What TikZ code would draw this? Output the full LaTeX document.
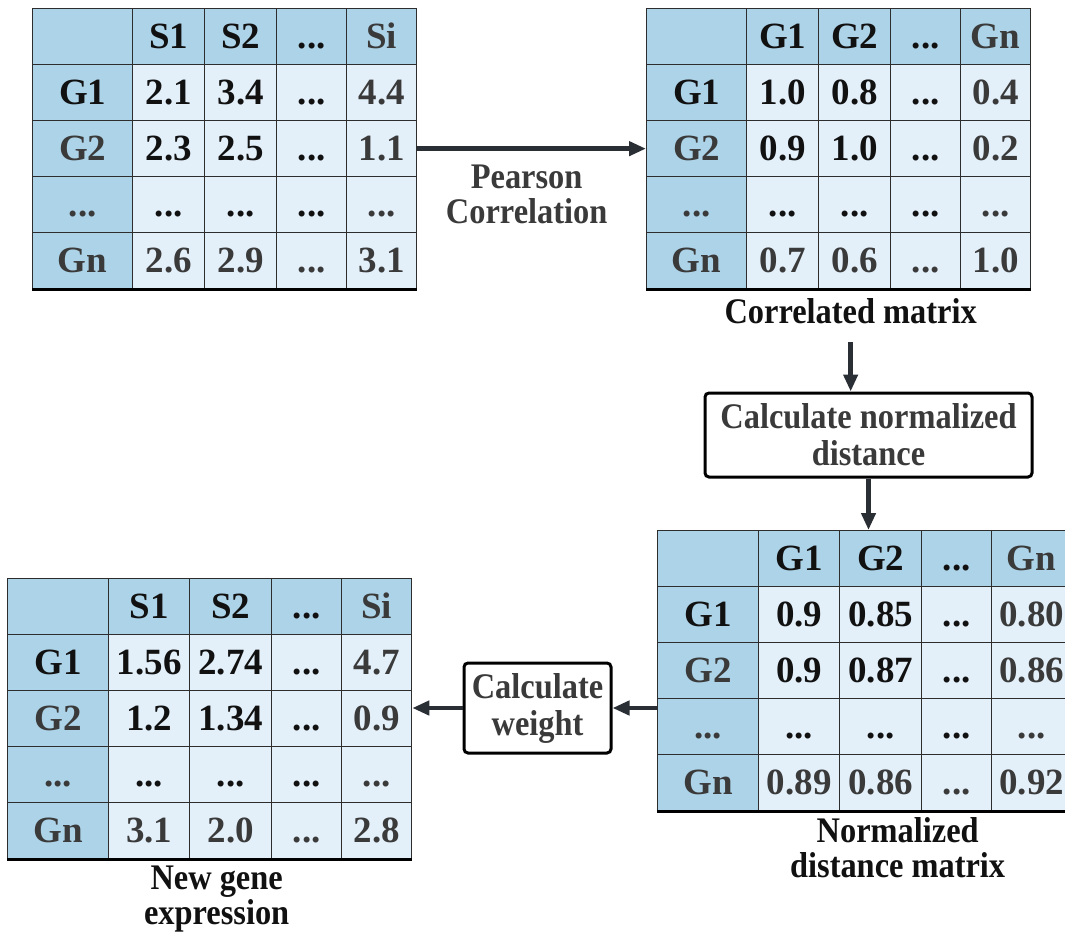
\documentclass[tikz,border=0pt]{standalone}
\usepackage{fontspec}
\setmainfont[FakeStretch=0.9]{Liberation Serif}
\newfontfamily\cellfont{Liberation Serif}
\usetikzlibrary{matrix,positioning,calc,arrows.meta}
\definecolor{hdblue}{RGB}{173,211,232}
\definecolor{cellblue}{RGB}{227,240,250}
\definecolor{ink}{RGB}{17,17,17}
\definecolor{ink2}{RGB}{58,58,58}
\definecolor{gridline}{RGB}{45,45,45}
\definecolor{arrowgray}{RGB}{42,46,53}
\tikzset{
  flow/.style={-{Triangle[length=17pt,width=14pt]}, line width=4.5pt, draw=arrowgray},
  gtable/.style n args={5}{matrix of nodes, nodes in empty cells, inner sep=0pt, outer sep=0pt,
    column sep=-1.3pt, row sep=-1.3pt,
    nodes={draw=gridline, line width=1.3pt, fill=cellblue, text=ink, inner sep=0pt, outer sep=0pt,
      minimum height=56pt, text height=24.5pt, text depth=0pt, font=\cellfont\fontsize{37}{40}\selectfont\bfseries},
    row 1/.style={nodes={fill=hdblue}},
    column 1/.style={nodes={fill=hdblue, text=ink2, minimum width=#1}},
    column 2/.style={nodes={minimum width=#2}},
    column 3/.style={nodes={minimum width=#3}},
    column 4/.style={nodes={minimum width=#4}},
    column 5/.style={nodes={text=ink2, minimum width=#5}},
    row 5/.style={nodes={text=ink2}}},
  stepbox/.style={draw=black, line width=3pt, rounded corners=4pt, fill=white, text=ink2, align=center,
    font=\fontsize{36}{37}\selectfont\bfseries},
  caption/.style={text=ink, align=center, inner sep=2pt, font=\fontsize{36}{35}\selectfont\bfseries}
}
\begin{document}
\begin{tikzpicture}[x=1pt,y=-1pt]
\useasboundingbox (0,0) rectangle (1065,934);

% gene expression matrix
\matrix (raw) [gtable={100pt}{72pt}{72pt}{70pt}{70pt}, anchor=north west] at (32,8) {
     & S1  & S2  & ... & Si  \\
  |[text=ink]| G1 & 2.1 & 3.4 & ... & 4.4 \\
  G2  & 2.3 & 2.5 & ... & 1.1 \\
  ... & ... & ... & ... & ... \\
  Gn  & 2.6 & 2.9 & ... & 3.1 \\
};
% correlated matrix
\matrix (corr) [gtable={100pt}{72pt}{72pt}{70pt}{70pt}, anchor=north west] at (646,8) {
     & G1  & G2  & ... & Gn  \\
  |[text=ink]| G1 & 1.0 & 0.8 & ... & 0.4 \\
  G2  & 0.9 & 1.0 & ... & 0.2 \\
  ... & ... & ... & ... & ... \\
  Gn  & 0.7 & 0.6 & ... & 1.0 \\
};
\node[caption, below=7pt of corr, xshift=12pt] (corrcap) {Correlated matrix};

\node[stepbox, minimum width=327pt, minimum height=84pt] (dist) at (868.5,435) {Calculate normalized\\distance};

% normalized distance matrix
\matrix (norm) [gtable={101pt}{81pt}{82pt}{70pt}{80pt}, anchor=north west] at (657,530) {
     & G1   & G2   & ... & Gn   \\
  |[text=ink]| G1 & 0.9  & 0.85 & ... & 0.80 \\
  G2  & 0.9  & 0.87 & ... & 0.86 \\
  ... & ...  & ...  & ... & ...  \\
  Gn  & 0.89 & 0.86 & ... & 0.92 \\
};
\node[caption, below=4pt of norm, xshift=33pt] (normcap) {Normalized\\distance matrix};

\node[stepbox, minimum width=147pt, minimum height=90pt] (wgt) at (537.5,708) {Calculate\\weight};

% new gene expression
\matrix (new) [gtable={101pt}{81pt}{82pt}{70pt}{70pt}, anchor=north west] at (7,578) {
     & S1   & S2   & ... & Si  \\
  |[text=ink]| G1 & 1.56 & 2.74 & ... & 4.7 \\
  G2  & 1.2  & 1.34 & ... & 0.9 \\
  ... & ...  & ...  & ... & ... \\
  Gn  & 3.1  & 2.0  & ... & 2.8 \\
};
\node[caption, below=4pt of new, xshift=7pt] (newcap) {New gene\\expression};

\foreach \t in {raw,corr,norm,new}
  \draw[line width=2.5pt, black] (\t.south west) -- (\t.south east);

\draw[flow] (raw) -- (corr) node[caption, text=ink2, midway, below=12pt, xshift=-5pt] (pc) {Pearson\\Correlation};
\draw[flow] ([yshift=-16pt]corrcap.south) -- (corrcap.south |- dist.north);
\draw[flow] (dist) -- (dist |- norm.north);
\draw[flow] (wgt.east -| norm.west) -- (wgt);
\draw[flow] (wgt) -- (wgt.west -| new.east);
\end{tikzpicture}
\end{document}
